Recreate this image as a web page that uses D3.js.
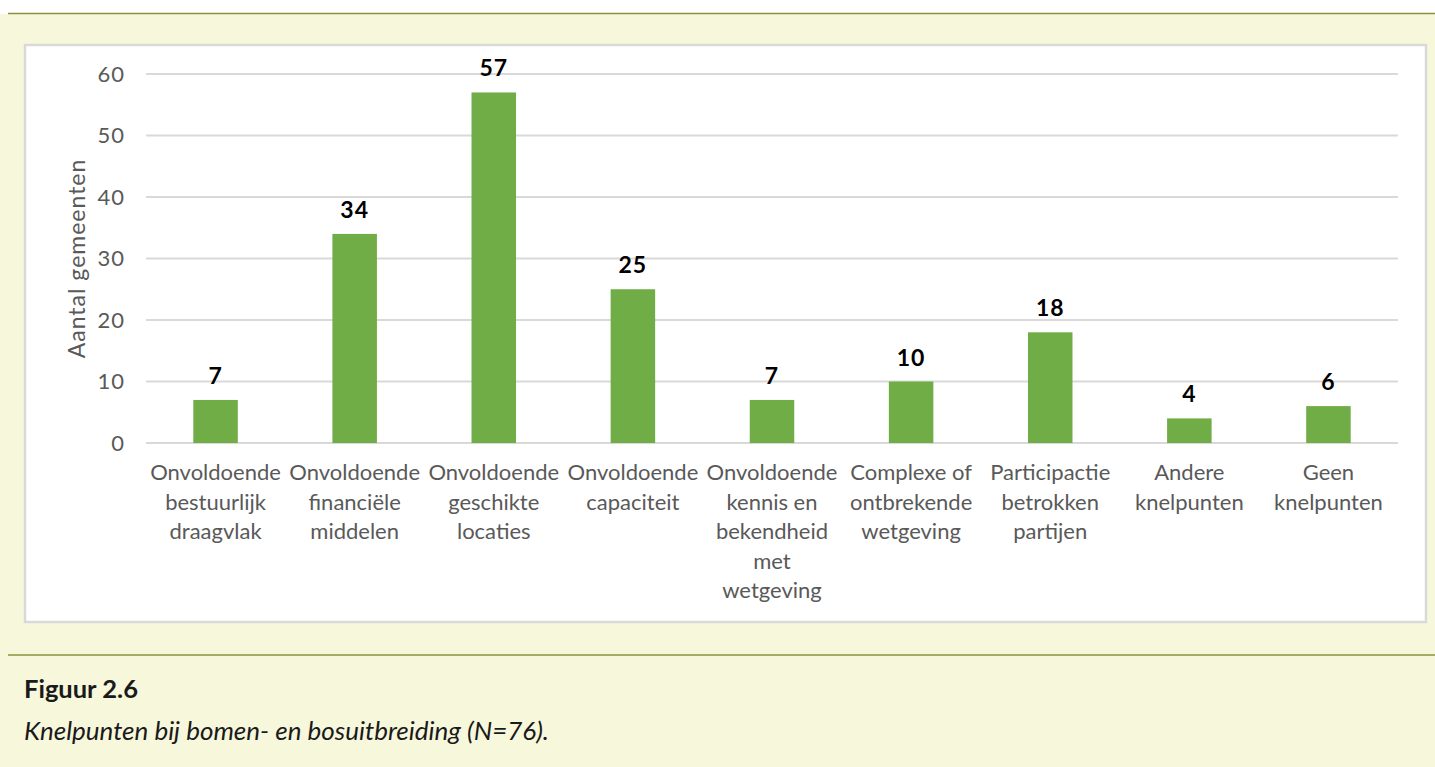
<!DOCTYPE html>
<html>
<head>
<meta charset="utf-8">
<script src="https://cdn.jsdelivr.net/npm/d3@7"></script>
<style>
  body { margin: 0; background: #fff; }
  text { font-family: Lato, "Open Sans", sans-serif; }
</style>
</head>
<body>
<script>
var W = 1435, H = 767;

// data
var categories = [
  ["Onvoldoende", "bestuurlijk", "draagvlak"],
  ["Onvoldoende", "financiële", "middelen"],
  ["Onvoldoende", "geschikte", "locaties"],
  ["Onvoldoende", "capaciteit"],
  ["Onvoldoende", "kennis en", "bekendheid", "met", "wetgeving"],
  ["Complexe of", "ontbrekende", "wetgeving"],
  ["Participactie", "betrokken", "partijen"],
  ["Andere", "knelpunten"],
  ["Geen", "knelpunten"]
];
var values = [7, 34, 57, 25, 7, 10, 18, 4, 6];
var yTicks = [0, 10, 20, 30, 40, 50, 60];
var yTitle = "Aantal gemeenten";
var figLabel = "Figuur 2.6";
var figCaption = "Knelpunten bij bomen- en bosuitbreiding (N=76).";

var svg = d3.select("body").append("svg")
    .attr("width", W)
    .attr("height", H);

// page background and rules
svg.append("rect").attr("x", 0).attr("y", 14).attr("width", W).attr("height", H - 14)
    .attr("fill", "#f7f7dc");
svg.append("line").attr("x1", 8).attr("x2", W).attr("y1", 13.5).attr("y2", 13.5)
    .attr("stroke", "#8c933a").attr("stroke-width", 1.5);
svg.append("line").attr("x1", 8).attr("x2", W).attr("y1", 655).attr("y2", 655)
    .attr("stroke", "#8c933a").attr("stroke-width", 1.5);

// chart box
svg.append("rect").attr("x", 25).attr("y", 45).attr("width", 1401).attr("height", 577)
    .attr("fill", "#fff").attr("stroke", "#d9d9d9").attr("stroke-width", 2.5);

var margin = {left: 146, right: 1398, top: 74, bottom: 443};

var x = d3.scaleBand()
    .domain(d3.range(categories.length))
    .range([margin.left, margin.right])
    .paddingInner(0.68)
    .paddingOuter(0.34);

var y = d3.scaleLinear()
    .domain([0, 60])
    .range([margin.bottom, margin.top]);

// gridlines
svg.append("g")
  .selectAll("line")
  .data(yTicks)
  .join("line")
    .attr("x1", margin.left)
    .attr("x2", margin.right)
    .attr("y1", function(d) { return y(d); })
    .attr("y2", function(d) { return y(d); })
    .attr("stroke", "#d9d9d9")
    .attr("stroke-width", 2);

// y axis labels
var yAxis = svg.append("g")
    .attr("transform", "translate(" + (margin.left - 21) + ",0)")
    .call(d3.axisLeft(y).tickValues(yTicks).tickSize(0).tickPadding(0));
yAxis.select(".domain").remove();
yAxis.selectAll("text")
    .attr("fill", "#595959")
    .style("font-size", "22px")
    .style("letter-spacing", "1px")
    .style("font-family", "Lato, sans-serif");

svg.append("text")
    .attr("transform", "translate(85," + ((margin.top + margin.bottom) / 2) + ") rotate(-90)")
    .attr("text-anchor", "middle")
    .attr("fill", "#595959")
    .style("font-size", "23px")
    .style("letter-spacing", "1px")
    .text(yTitle);

// bars
svg.append("g")
  .selectAll("rect")
  .data(values)
  .join("rect")
    .attr("x", function(d, i) { return x(i); })
    .attr("y", function(d) { return y(d); })
    .attr("width", x.bandwidth())
    .attr("height", function(d) { return y(0) - y(d); })
    .attr("fill", "#70ad47");

// value labels
svg.append("g")
  .selectAll("text")
  .data(values)
  .join("text")
    .attr("x", function(d, i) { return x(i) + x.bandwidth() / 2; })
    .attr("y", function(d) { return y(d) - 16; })
    .attr("text-anchor", "middle")
    .attr("fill", "#000")
    .style("font-size", "23px")
    .style("font-weight", "bold")
    .style("letter-spacing", "1px")
    .text(function(d) { return d; });

// category labels
var cat = svg.append("g")
  .selectAll("text")
  .data(categories)
  .join("text")
    .attr("x", function(d, i) { return x(i) + x.bandwidth() / 2; })
    .attr("y", 480)
    .attr("text-anchor", "middle")
    .attr("fill", "#595959")
    .style("font-size", "22px");
cat.selectAll("tspan")
  .data(function(d) { return d; })
  .join("tspan")
    .attr("x", function() { return d3.select(this.parentNode).attr("x"); })
    .attr("dy", function(d, i) { return i === 0 ? 0 : 29.5; })
    .text(function(d) { return d; });

// caption
svg.append("text")
    .attr("x", 24)
    .attr("y", 698)
    .attr("fill", "#1a1a1a")
    .style("font-size", "25.5px")
    .style("font-weight", "bold")
    .text(figLabel);

svg.append("text")
    .attr("x", 24)
    .attr("y", 740)
    .attr("fill", "#1a1a1a")
    .style("font-size", "26px")
    .style("font-style", "italic")
    .text(figCaption);
</script>
</body>
</html>
